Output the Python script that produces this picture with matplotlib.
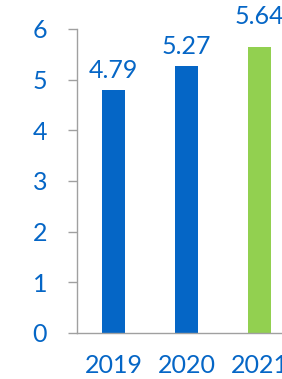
import matplotlib
matplotlib.use("Agg")
import matplotlib.pyplot as plt

years = ["2019", "2020", "2021"]
values = [4.79, 5.27, 5.64]
bar_colors = ["#0566C6", "#0566C6", "#92D050"]
label_offsets = [6, 6, 14]
yticks = [0, 1, 2, 3, 4, 5, 6]

text_color = "#0566C6"
axis_color = "#A0A0A0"
fontsize = 18

plt.rcParams["font.family"] = ["Lato", "DejaVu Sans"]

fig = plt.figure(figsize=(2.82, 3.79), dpi=100)
# axes run past the right edge, the reference is cut off there
ax = fig.add_axes([77 / 282, 46 / 379, 219 / 282, 304 / 379])

x = range(len(years))
bars = ax.bar(x, values, width=0.315, color=bar_colors, zorder=2)

for rect, v, off in zip(bars, values, label_offsets):
    ax.annotate(
        f"{v:.2f}",
        (rect.get_x() + rect.get_width() / 2, v),
        xytext=(0, off),
        textcoords="offset points",
        ha="center",
        va="bottom",
        fontsize=fontsize,
        color=text_color,
        annotation_clip=False,
    )

ax.set_xlim(-0.5, 2.5)
ax.set_ylim(0, 6)
ax.set_xticks(list(x))
ax.set_xticklabels(years)
ax.set_yticks(yticks)

for side in ["top", "right"]:
    ax.spines[side].set_visible(False)
for side in ["left", "bottom"]:
    ax.spines[side].set_color(axis_color)
    ax.spines[side].set_linewidth(1.0)

ax.tick_params(axis="y", colors=axis_color, labelcolor=text_color,
               labelsize=fontsize, length=6.5, width=1.0, pad=15)
ax.tick_params(axis="x", length=0, labelcolor=text_color,
               labelsize=fontsize, pad=15)

fig.savefig("out.png", dpi=100)
